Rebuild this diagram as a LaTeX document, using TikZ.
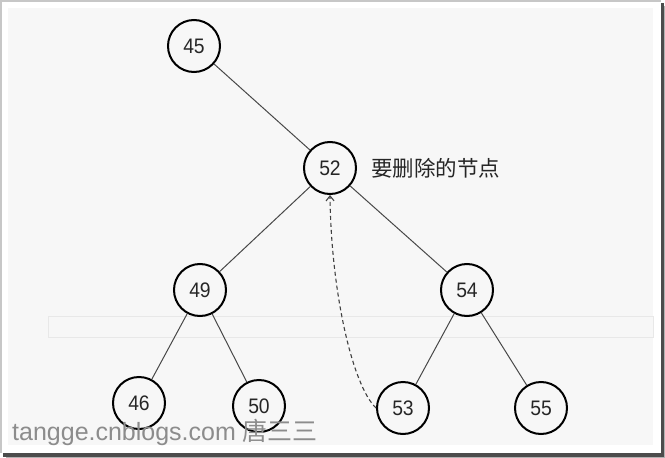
\documentclass[tikz,border=0pt]{standalone}
\usepackage{fontspec}
\setmainfont{Liberation Sans}
\newfontfamily\cjk{Noto Sans CJK SC}
\usetikzlibrary{arrows.meta}
\definecolor{panel}{HTML}{F7F7F7}
\definecolor{edgec}{HTML}{484848}
\definecolor{wmark}{HTML}{8C8C8C}
\definecolor{bandc}{HTML}{E8E8E8}
\tikzset{
  treenode/.style={circle, draw=black, line width=2pt, minimum size=52pt, inner sep=0pt,
    font=\fontsize{21}{21}\selectfont, text=black!85},
  treeedge/.style={draw=edgec, line width=1pt},
  moveedge/.style={draw=black!75, line width=1.1pt, dashed, dash pattern=on 4pt off 3pt, -{Straight Barb[length=5pt,width=8pt]}},
}
\begin{document}
\begin{tikzpicture}[x=1pt,y=-1pt]
\useasboundingbox (0,0) rectangle (665,458);
% frame
\fill[white] (0,0) rectangle (665,458);
\fill[black!22] (0,0) rectangle (2,453);
\fill[black!22] (0,0) rectangle (661,2);
\fill[black!70] (661,3) rectangle (664,457);
\fill[black!70] (3,453) rectangle (664,457);
\fill[black!30] (664,6) rectangle (665,458);
\fill[black!30] (6,457) rectangle (665,458);
\fill[panel] (8,8) rectangle (653,445);
% faint band
\draw[bandc, line width=0.8pt] (48,316) rectangle (653,337);
% nodes
\node[treenode] (n45) at (194,46) {\scalebox{0.92}[1]{45}};
\node[treenode] (n52) at (330,168) {\scalebox{0.92}[1]{52}};
\node[treenode] (n49) at (200,290) {\scalebox{0.92}[1]{49}};
\node[treenode] (n54) at (467,290) {\scalebox{0.92}[1]{54}};
\node[treenode] (n46) at (139,403) {\scalebox{0.92}[1]{46}};
\node[treenode] (n50) at (259,406) {\scalebox{0.92}[1]{50}};
\node[treenode] (n53) at (403,408) {\scalebox{0.92}[1]{53}};
\node[treenode] (n55) at (541,408) {\scalebox{0.92}[1]{55}};
\node[anchor=west, inner sep=0pt, font=\cjk\fontsize{21.5}{22}\selectfont, text=black!85] (lbl) at (371,168) {要删除的节点};
% edges
\draw[treeedge] (n45) -- (n52);
\draw[treeedge] (n52) -- (n49);
\draw[treeedge] (n52) -- (n54);
\draw[treeedge] (n49) -- (n46);
\draw[treeedge] (n49) -- (n50);
\draw[treeedge] (n54) -- (n53);
\draw[treeedge] (n54) -- (n55);
\draw[moveedge] (n53.west) .. controls (352,385) and (331,290) .. (n52.south);
% watermark
\node[anchor=base west, inner sep=0pt, text=wmark, font=\fontsize{25}{25}\selectfont] (wm) at (12,440) {tangge.cnblogs.com {\cjk 唐三三}};
\end{tikzpicture}
\end{document}
